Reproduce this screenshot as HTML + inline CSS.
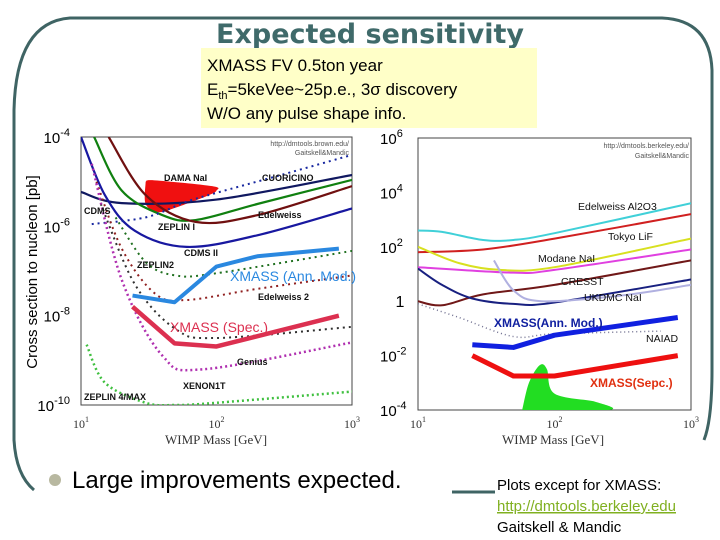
<!DOCTYPE html>
<html><head><meta charset="utf-8"><style>
body{margin:0;width:720px;height:540px;background:#fff;overflow:hidden;font-family:"Liberation Sans",sans-serif}
svg{position:absolute;left:0;top:0}
</style></head><body>
<svg id="s" width="720" height="540">
<path d="M14,110 Q16,22 70,18 L662,18 Q710,20 712,70 L712,370 Q712,420 704,440" fill="none" stroke="#3f6464" stroke-width="3"/>
<path d="M14,110 L14,440 Q16,475 34,490" fill="none" stroke="#3f6464" stroke-width="3"/>
<line x1="452" y1="492" x2="495" y2="492" stroke="#3f6464" stroke-width="3"/>
<text x="370" y="43" text-anchor="middle" font-size="27" font-weight="bold" fill="#3f6a6a" font-family="'DejaVu Sans',sans-serif">Expected sensitivity</text>
<rect x="201" y="48" width="336" height="80" fill="#ffffc8"/>
<text x="207" y="71" font-size="17">XMASS FV 0.5ton year</text>
<text x="207" y="95" font-size="17">E<tspan font-size="11" dy="4">th</tspan><tspan dy="-4">=5keVee~25p.e., 3σ discovery</tspan></text>
<text x="207" y="119" font-size="17">W/O any pulse shape info.</text>
<text transform="translate(37,272) rotate(-90)" text-anchor="middle" font-size="15">Cross section to nucleon  [pb]</text>
<g id="L"></g><g id="R"></g>
<circle cx="55" cy="480" r="6" fill="#b8b8a0"/>
<text x="72" y="488" font-size="24">Large improvements expected.</text>
<text x="497" y="490" font-size="15">Plots except for XMASS:</text>
<text x="497" y="511" font-size="15" fill="#80b020" text-decoration="underline">http://dmtools.berkeley.edu</text>
<text x="497" y="532" font-size="15">Gaitskell &amp; Mandic</text>
</svg>
<script>
const NS="http://www.w3.org/2000/svg";
// left chart data: [mass GeV, log10 sigma]
const lCDMS=[[10,-5.23],[20,-5.48],[100,-5.4],[1000,-4.85]];
const lGreen=[[12.5,-4],[20,-5.2],[40,-5.75],[70,-5.86],[200,-5.5],[1000,-4.96]];
const lBrown=[[16,-4],[30,-5.3],[70,-5.9],[200,-5.75],[1000,-5.1]];
const lCDMS2=[[10,-4],[15,-5.3],[25,-6.1],[60,-6.46],[200,-6.2],[1000,-5.6]];
const lCuori=[[12,-5.95],[30,-5.8],[60,-5.45],[100,-5.25],[300,-4.85],[1000,-4.4]];
const lZep2=[[18,-5.8],[30,-6.8],[50,-7.1],[100,-7.05],[1000,-6.55]];
const lEdel2=[[13,-5.0],[20,-6.5],[35,-7.5],[60,-7.65],[200,-7.4],[1000,-7.1]];
const lGenius=[[14,-5.5],[25,-7.3],[50,-8.3],[100,-8.5],[1000,-8.25]];
const lXenon=[[12,-4.6],[20,-7.2],[40,-8.9],[80,-9.2],[1000,-8.6]];
const lZep4=[[11,-8.65],[15,-9.5],[30,-9.95],[50,-10],[100,-9.95],[1000,-9.7]];
const lAnn=[[24,-7.55],[49,-7.7],[100,-6.9],[200,-6.67],[800,-6.5]];
const lSpec=[[24,-7.8],[49,-8.62],[100,-8.69],[800,-8.0]];
const lDama=[[30,-5.0],[35,-4.97],[93,-5.1],[100,-5.2],[85,-5.32],[50,-5.58],[37,-5.68],[30,-5.5]];
const lTicks=["10-4","10-6","10-8","10-10"];
// right chart data
const rCyan=[[10,2.6],[15,2.55],[30,2.25],[50,2.25],[100,2.5],[1000,3.6]];
const rRed=[[10,1.8],[30,1.9],[100,2.3],[1000,3.2]];
const rYellow=[[10,2.0],[20,1.4],[40,1.15],[100,1.25],[1000,2.3]];
const rMag=[[10,1.25],[50,1.05],[100,1.15],[1000,1.9]];
const rBrown=[[10,0],[15,-0.15],[30,0.25],[100,0.6],[1000,1.5]];
const rNavy=[[10,1.2],[15,0.6],[25,0.1],[50,-0.1],[100,-0.05],[1000,0.8]];
const rLav=[[36,1.5],[50,0.4],[80,0],[300,0.2],[1000,0.6]];
const rNaiad=[[10,-0.1],[20,-0.6],[50,-1.3],[100,-1.2],[600,-1.1]];
const rAnn=[[25,-1.6],[50,-1.7],[100,-1.25],[800,-0.6]];
const rSpec=[[25,-2.0],[50,-2.75],[100,-2.75],[800,-2.0]];
const rBlob=[[58,-4],[65,-3],[78,-2.35],[88,-2.5],[100,-3.4],[200,-3.7],[250,-4]];
const rTicks=["6","4","2","0","-2","-4"];

function el(p,t,a){const e=document.createElementNS(NS,t);for(const k in a)e.setAttribute(k,a[k]);p.appendChild(e);return e;}
function smooth(pts){let d='M'+pts[0][0]+','+pts[0][1];
 for(let i=0;i<pts.length-1;i++){const p0=pts[i-1]||pts[i],p1=pts[i],p2=pts[i+1],p3=pts[i+2]||p2;
  const c1=[p1[0]+(p2[0]-p0[0])/6,p1[1]+(p2[1]-p0[1])/6],c2=[p2[0]-(p3[0]-p1[0])/6,p2[1]-(p3[1]-p1[1])/6];
  d+=' C'+c1+' '+c2+' '+p2;}
 return d;}
function chart(g,x0,x1,yTop,yBot,lTop,lBot){
  const sx=m=>x0+(Math.log10(m)-1)/2*(x1-x0);
  const sy=v=>yTop+(lTop-v)/(lTop-lBot)*(yBot-yTop);
  return {sx,sy,line(d,c,w,dash,name,straight){const pts=d.map(q=>[sx(q[0]),sy(q[1])]);
  const p=el(g,'path',{d:straight?'M'+pts.join(' L'):smooth(pts),fill:'none',stroke:c,'stroke-width':w,'stroke-linejoin':'round'});if(dash)p.setAttribute('stroke-dasharray',dash);
  
  return p;},
  poly(d,c,name){const pts=d.map(q=>[sx(q[0]),sy(q[1])]);const p=el(g,'path',{d:smooth(pts.concat([pts[0]]))+'Z',fill:c});
  
  }};
}
function txt(g,x,y,s,size,fill,name,anchor,extra){const t=el(g,'text',Object.assign({x,y,'font-size':size,fill:fill||'#000'},anchor?{'text-anchor':anchor}:{},extra||{}));t.textContent=s;

return t;}

// LEFT
const L=document.getElementById('L');
const a=chart(L,81,352,137,405,-4,-10);
const fr=el(L,'rect',{x:81,y:137,width:271,height:268,fill:'#fff',stroke:'#444','stroke-width':1});


const clipL=el(L,'clipPath',{id:'cl'});el(clipL,'rect',{x:81,y:137,width:271,height:268});
const gL=el(L,'g',{'clip-path':'url(#cl)'});
const a2=chart(gL,81,352,137,405,-4,-10);
a2.poly(lDama,'#f01010','dama-nai-region');
a2.line(lCDMS,'#101860',2.2,null,'cdms-curve');
a2.line(lGreen,'#108010',2.2,null,'green-curve');
a2.line(lBrown,'#701010',2.2,null,'brown-curve');
a2.line(lCDMS2,'#1818a0',2.2,null,'cdms2-curve');
a2.line(lCuori,'#1828a0',2,'2 4','cuoricino-curve');
a2.line(lZep2,'#207020',2,'2 4','zeplin2-curve');
a2.line(lEdel2,'#902020',2,'2 4','edelweiss2-curve');
a2.line(lGenius,'#303030',2,'2 4','genius-curve');
a2.line(lXenon,'#b030b0',2.5,'2 3','xenon1t-curve');
a2.line(lZep4,'#40c040',2.5,'2 3','zeplin4-curve');
a2.line(lAnn,'#2a88e0',4,null,'xmass-ann-mod-curve',true);
a2.line(lSpec,'#dc3050',4.5,null,'xmass-spec-curve',true);
lTicks.forEach((t,i)=>{const y=a.sy(-4-2*i);const p=t.split('-');
 const e=txt(L,70,y+6,'10','15','#000','left-y-tick-'+i,'end');const ts=el(e,'tspan',{dy:-7,'font-size':11});ts.textContent='-'+p[1];});
[1,2,3].forEach((k,i)=>{const e=txt(L,a.sx(Math.pow(10,k)),428,'10','12','#333','left-x-tick-'+i,'middle',{'font-family':'Liberation Serif'});const ts=el(e,'tspan',{dy:-6,'font-size':8});ts.textContent=k;});
txt(L,216,444,'WIMP Mass [GeV]',13,'#333','left-x-axis-title','middle',{'font-family':'Liberation Serif'});
[['DAMA NaI',164,181],['CUORICINO',262,181],['CDMS',84,214],['Edelweiss',258,218],['ZEPLIN I',158,230],['CDMS II',184,256],['ZEPLIN2',137,268],['Edelweiss 2',258,300],['Genius',237,365],['XENON1T',183,389],['ZEPLIN 4/MAX',84,400]].forEach((l,i)=>txt(L,l[1],l[2],l[0],9,'#111','left-label-'+i,null,{'font-weight':'bold'}));
txt(L,230,281,'XMASS (Ann. Mod.)',14,'#2a88e0','xmass-ann-label');
txt(L,170,332,'XMASS (Spec.)',14,'#dc3050','xmass-spec-label');
txt(L,349,146,'http://dmtools.brown.edu/',7,'#555','left-credit-1','end');
txt(L,349,155,'Gaitskell&Mandic',7,'#555','left-credit-2','end');

// RIGHT
const R=document.getElementById('R');
const b=chart(R,418,691,138,410,6,-4);
const fr2=el(R,'rect',{x:418,y:138,width:273,height:272,fill:'#fff',stroke:'#444','stroke-width':1});


const clipR=el(R,'clipPath',{id:'cr'});el(clipR,'rect',{x:418,y:138,width:273,height:272});
const gR=el(R,'g',{'clip-path':'url(#cr)'});
const b2=chart(gR,418,691,138,410,6,-4);
b2.poly(rBlob,'#22dd22','green-signal-region');
b2.line(rCyan,'#40d0d8',2,null,'edelweiss-al2o3-curve');
b2.line(rRed,'#d02020',2,null,'tokyo-lif-curve');
b2.line(rYellow,'#d8e020',2,null,'modane-nai-curve');
b2.line(rMag,'#e040e0',2,null,'cresst-curve');
b2.line(rBrown,'#701818',2,null,'brown-curve-right');
b2.line(rNavy,'#182080',2,null,'navy-curve-right');
b2.line(rLav,'#b0b0e0',2,null,'ukdmc-nai-curve');
b2.line(rNaiad,'#707090',1.5,'1 3','naiad-curve');
b2.line(rAnn,'#1020e0',5,null,'xmass-ann-mod-right',true);
b2.line(rSpec,'#ee1010',5,null,'xmass-spec-right',true);
rTicks.forEach((t,i)=>{const y=b.sy(+t);
 if(t==='0'){txt(R,400,y+6,'1',16,'#000','right-y-tick-'+i,'middle');return;}
 const e=txt(R,380,y+6,'10',15,'#000','right-y-tick-'+i);const ts=el(e,'tspan',{dy:-7,'font-size':11});ts.textContent=t;});
[1,2,3].forEach((k,i)=>{const e=txt(R,b.sx(Math.pow(10,k)),428,'10','12','#333','right-x-tick-'+i,'middle',{'font-family':'Liberation Serif'});const ts=el(e,'tspan',{dy:-6,'font-size':8});ts.textContent=k;});
txt(R,553,444,'WIMP Mass [GeV]',13,'#333','right-x-axis-title','middle',{'font-family':'Liberation Serif'});
[['Edelweiss Al2O3',578,210],['Tokyo LiF',608,240],['Modane NaI',538,262],['CRESST',561,285],['UKDMC NaI',584,301],['NAIAD',646,342]].forEach((l,i)=>txt(R,l[1],l[2],l[0],10.5,'#111','right-label-'+i));
txt(R,494,327,'XMASS(Ann. Mod.)',12,'#1020a0','xmass-ann-label-right',null,{'font-weight':'bold'});
txt(R,590,387,'XMASS(Sepc.)',12,'#e03010','xmass-spec-label-right',null,{'font-weight':'bold'});
txt(R,689,148,'http://dmtools.berkeley.edu/',7,'#555','right-credit-1','end');
txt(R,689,158,'Gaitskell&Mandic',7,'#555','right-credit-2','end');
</script>
</body></html>
